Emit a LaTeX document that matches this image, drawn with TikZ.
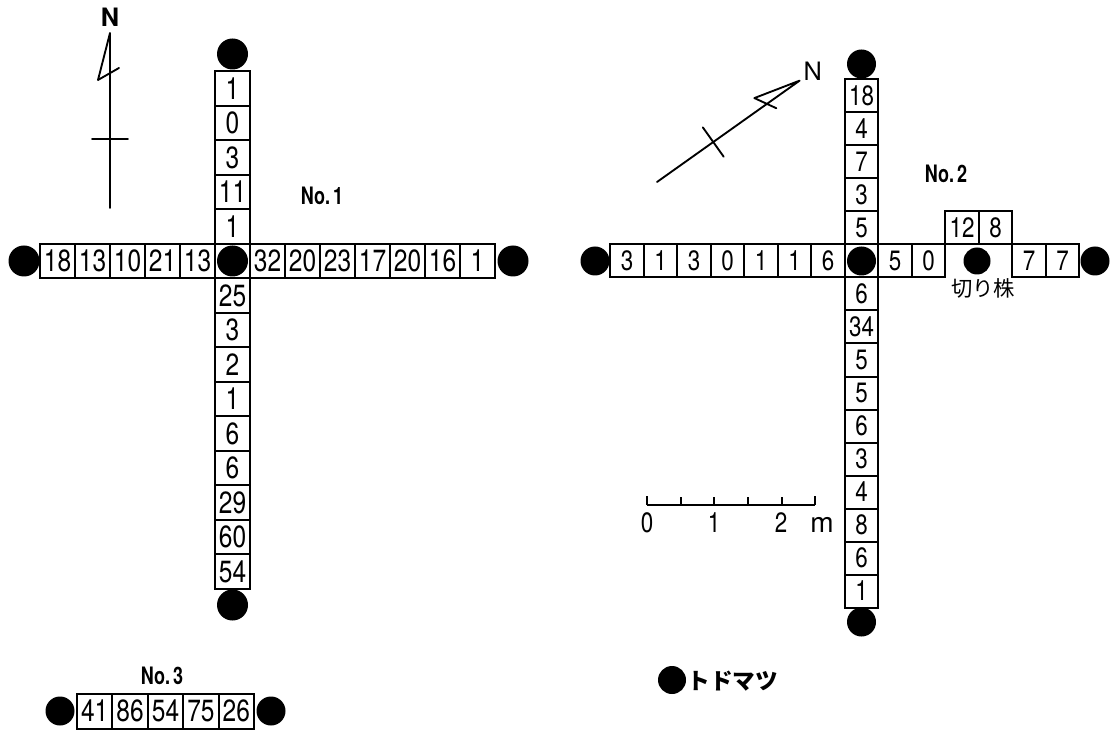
\documentclass[tikz,border=0pt]{standalone}
\usepackage{fontspec}
\usepackage{graphicx}
\setmainfont{TeX Gyre Heros}
\newfontfamily\jpfont{Noto Sans CJK JP}
\newcommand{\narrow}[1]{\scalebox{0.8}[1]{#1}}
\tikzset{every picture/.style={line width=0.75pt}}

\begin{document}
\begin{tikzpicture}[x=0.75pt,y=0.75pt,yscale=-1,xscale=1,
	cellA/.style={draw, line width=1.5pt, minimum width=26.25pt, minimum height=25.9pt, inner sep=0pt, font=\fontsize{23}{24}\selectfont},
	cellB/.style={draw, line width=1.5pt, minimum width=25.1pt, minimum height=24.75pt, inner sep=0pt, font=\fontsize{21}{22}\selectfont},
	cellC/.style={draw, line width=1.5pt, minimum width=26.55pt, minimum height=26.25pt, inner sep=0pt, font=\fontsize{23}{24}\selectfont},
	dotA/.style={circle, fill, inner sep=0pt, minimum size=23.25pt},
	dotB/.style={circle, fill, inner sep=0pt, minimum size=21.75pt},
	plotname/.style={inner sep=0.75pt, font=\bfseries\fontsize{18}{19}\selectfont},
	needle/.style={line width=1.4pt, line join=round, line cap=round},
	scaletext/.style={anchor=base, inner sep=0pt, font=\fontsize{21}{22}\selectfont}]
	\useasboundingbox (0,0) rectangle (1119,730);
	
	%North arrow for No. 1
	\begin{scope}[shift={(110,208)}, yscale=-1]
		\draw [needle] (0,0) -- (0,175) -- (-12,128) -- (9,140) ;
		\draw [needle] (-18,69) -- (18,69) ;
		\node [inner sep=0pt, font=\bfseries\fontsize{19}{20}\selectfont] (north1) at (0,191) {N};
	\end{scope}
	%North arrow for No. 2
	\begin{scope}[shift={(657,182)}, yscale=-1, rotate=-54.6]
		\draw [needle] (0,0) -- (0,175) -- (-12,128) -- (9,140) ;
		\draw [needle] (-18,69) -- (18,69) ;
		\node [inner sep=0pt, font=\fontsize{19}{20}\selectfont] (north2) at (0,191) {N};
	\end{scope}
	
	% No. 1, north-south line
	\node [cellA] (n1a1) at (232.5,88.5) {\narrow{1}};
	\node [cellA] (n1a2) at (232.5,123) {\narrow{0}};
	\node [cellA] (n1a3) at (232.5,157.5) {\narrow{3}};
	\node [cellA] (n1a4) at (232.5,192) {\narrow{11}};
	\node [cellA] (n1a5) at (232.5,226.5) {\narrow{1}};
	\node [cellA] (n1o) at (232.5,261) {};
	\node [cellA] (n1b1) at (232.5,295.5) {\narrow{25}};
	\node [cellA] (n1b2) at (232.5,330) {\narrow{3}};
	\node [cellA] (n1b3) at (232.5,364.5) {\narrow{2}};
	\node [cellA] (n1b4) at (232.5,399) {\narrow{1}};
	\node [cellA] (n1b5) at (232.5,433.5) {\narrow{6}};
	\node [cellA] (n1b6) at (232.5,468) {\narrow{6}};
	\node [cellA] (n1b7) at (232.5,502.5) {\narrow{29}};
	\node [cellA] (n1b8) at (232.5,537) {\narrow{60}};
	\node [cellA] (n1b9) at (232.5,571.5) {\narrow{54}};
	% No. 1, west-east line
	\node [cellA] (n1l1) at (57.5,261) {\narrow{18}};
	\node [cellA] (n1l2) at (92.5,261) {\narrow{13}};
	\node [cellA] (n1l3) at (127.5,261) {\narrow{10}};
	\node [cellA] (n1l4) at (162.5,261) {\narrow{21}};
	\node [cellA] (n1l5) at (197.5,261) {\narrow{13}};
	\node [cellA] (n1r1) at (267.5,261) {\narrow{32}};
	\node [cellA] (n1r2) at (302.5,261) {\narrow{20}};
	\node [cellA] (n1r3) at (337.5,261) {\narrow{23}};
	\node [cellA] (n1r4) at (372.5,261) {\narrow{17}};
	\node [cellA] (n1r5) at (407.5,261) {\narrow{20}};
	\node [cellA] (n1r6) at (442.5,261) {\narrow{16}};
	\node [cellA] (n1r7) at (477.5,261) {\narrow{1}};
	% No. 1, trees
	\node [dotA] (t1o) at (232.5,261) {};
	\node [dotA] (t1n) at (232.5,54) {};
	\node [dotA] (t1s) at (232.5,605) {};
	\node [dotA] (t1w) at (24,261) {};
	\node [dotA] (t1e) at (513,261) {};
	\node [plotname] (name1) at (322,196) {\scalebox{0.75}[1]{No.\,1}};
	
	% No. 2, north-south line
	\node [cellB] (n2a1) at (861.5,96) {\narrow{18}};
	\node [cellB] (n2a2) at (861.5,129) {\narrow{4}};
	\node [cellB] (n2a3) at (861.5,162) {\narrow{7}};
	\node [cellB] (n2a4) at (861.5,195) {\narrow{3}};
	\node [cellB] (n2a5) at (861.5,228) {\narrow{5}};
	\node [cellB] (n2o) at (861.5,261) {};
	\node [cellB] (n2b1) at (861.5,294) {\narrow{6}};
	\node [cellB] (n2b2) at (861.5,327) {\narrow{34}};
	\node [cellB] (n2b3) at (861.5,360) {\narrow{5}};
	\node [cellB] (n2b4) at (861.5,393) {\narrow{5}};
	\node [cellB] (n2b5) at (861.5,426) {\narrow{6}};
	\node [cellB] (n2b6) at (861.5,459) {\narrow{3}};
	\node [cellB] (n2b7) at (861.5,492) {\narrow{4}};
	\node [cellB] (n2b8) at (861.5,525) {\narrow{8}};
	\node [cellB] (n2b9) at (861.5,558) {\narrow{6}};
	\node [cellB] (n2b10) at (861.5,591) {\narrow{1}};
	% No. 2, west-east line
	\node [cellB] (n2l1) at (627,261) {\narrow{3}};
	\node [cellB] (n2l2) at (660.5,261) {\narrow{1}};
	\node [cellB] (n2l3) at (694,261) {\narrow{3}};
	\node [cellB] (n2l4) at (727.5,261) {\narrow{0}};
	\node [cellB] (n2l5) at (761,261) {\narrow{1}};
	\node [cellB] (n2l6) at (794.5,261) {\narrow{1}};
	\node [cellB] (n2l7) at (828,261) {\narrow{6}};
	\node [cellB] (n2r1) at (895,261) {\narrow{5}};
	\node [cellB] (n2r2) at (928.5,261) {\narrow{0}};
	\node [cellB] (n2u1) at (962,228) {\narrow{12}};
	\node [cellB] (n2u2) at (995.5,228) {\narrow{8}};
	\node [cellB] (n2r5) at (1029,261) {\narrow{7}};
	\node [cellB] (n2r6) at (1062.5,261) {\narrow{7}};
	% No. 2, trees
	\node [dotB] (t2o) at (861.5,261) {};
	\node [dotB] (t2n) at (861.5,64) {};
	\node [dotB] (t2s) at (861.5,622) {};
	\node [dotB] (t2w) at (595,261) {};
	\node [dotB] (t2e) at (1095,261) {};
	\node [circle, fill, inner sep=0pt, minimum size=20.25pt] (stump) at (977,261) {};
	\node [inner sep=0pt, font=\jpfont\fontsize{16}{18}\selectfont] (stumptext) at (983,288) {切り株};
	\node [plotname] (name2) at (946,174) {\scalebox{0.75}[1]{No.\,2}};
	
	% No. 3
	\node [cellC] (n3c1) at (94.7,711) {\narrow{41}};
	\node [cellC] (n3c2) at (130.1,711) {\narrow{86}};
	\node [cellC] (n3c3) at (165.5,711) {\narrow{54}};
	\node [cellC] (n3c4) at (200.9,711) {\narrow{75}};
	\node [cellC] (n3c5) at (236.3,711) {\narrow{26}};
	\node [dotB] (t3w) at (60,711) {};
	\node [dotB] (t3e) at (271,711) {};
	\node [plotname] (name3) at (162,676) {\scalebox{0.75}[1]{No.\,3}};
	
	%Scale bar
	\draw [line width=1.4pt] (647,505) -- (815,505) ;
	\draw [line width=1.4pt] (647,505) -- (647,496) ;
	\draw [line width=1.4pt] (681,505) -- (681,497) ;
	\draw [line width=1.4pt] (714,505) -- (714,497) ;
	\draw [line width=1.4pt] (748,505) -- (748,497) ;
	\draw [line width=1.4pt] (782,505) -- (782,497) ;
	\draw [line width=1.4pt] (815,505) -- (815,496) ;
	\node [scaletext] (bar0) at (647,532) {\narrow{0}};
	\node [scaletext] (bar1) at (714,532) {\narrow{1}};
	\node [scaletext] (bar2) at (781,532) {\narrow{2}};
	\node [scaletext] (barm) at (822,532) {m};
	
	%Legend
	\node [circle, fill, inner sep=0pt, minimum size=21pt] (legdot) at (672,680) {};
	\node [anchor=west, inner sep=0pt, font=\jpfont\bfseries\fontsize{17}{18}\selectfont] (legtext) at (687,681) {トドマツ};
\end{tikzpicture}
\end{document}
